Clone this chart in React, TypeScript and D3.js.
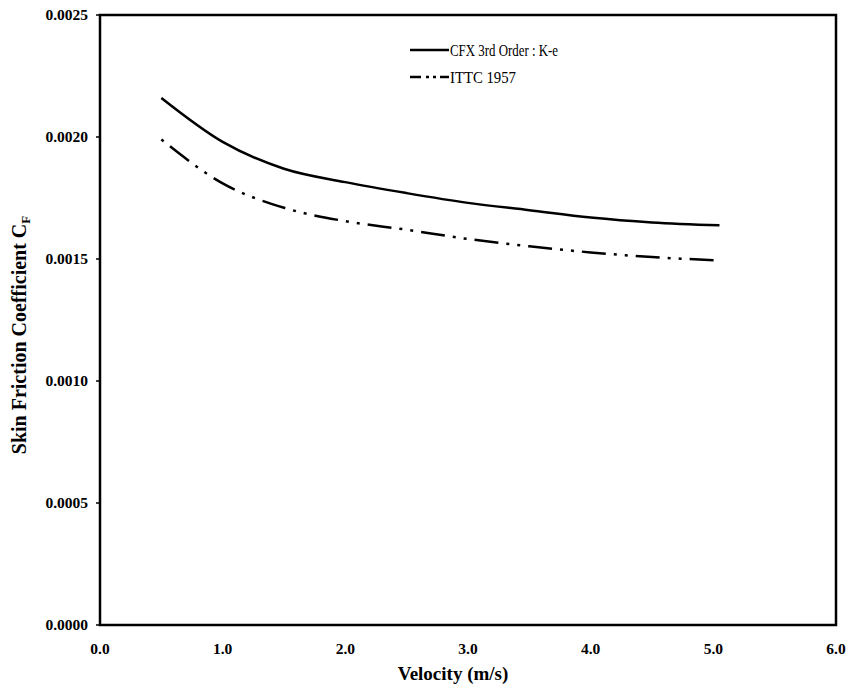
import React, { useEffect, useRef } from "react";
import * as d3 from "d3";

const velocity = [0.5, 1.0, 1.5, 2.0, 2.5, 3.0, 3.5, 4.0, 4.5, 5.05];
const cfxKe = [0.00216, 0.00198, 0.00187, 0.001815, 0.00177, 0.00173, 0.0017, 0.00167, 0.00165, 0.001638];
const ittc1957 = [0.00199, 0.00181, 0.00171, 0.001655, 0.00162, 0.001582, 0.001552, 0.001527, 0.001508, 0.001494];
const xTicks = [0, 1, 2, 3, 4, 5, 6];
const yTicks = [0, 0.0005, 0.001, 0.0015, 0.002, 0.0025];
const seriesNames = ["CFX 3rd Order : K-e", "ITTC 1957"];

export default function App() {
  const ref = useRef<SVGSVGElement>(null);
  useEffect(() => {
    const svg = d3.select(ref.current);
    svg.selectAll("*").remove();
    const W = 849, H = 693;
    const left = 100, right = 836, top = 15, bottom = 625;
    const x = d3.scaleLinear().domain([0, 6]).range([left, right]);
    const y = d3.scaleLinear().domain([0, 0.0025]).range([bottom, top]);
    const font = "'Liberation Serif', 'Times New Roman', serif";

    svg.attr("width", W).attr("height", H).style("background", "#fff");

    const gy = svg.append("g");
    yTicks.forEach((t) => {
      gy.append("line").attr("x1", left - 4).attr("x2", left).attr("y1", y(t)).attr("y2", y(t))
        .attr("stroke", "#000").attr("stroke-width", 1.5);
      gy.append("text").attr("x", 88).attr("y", y(t)).attr("dy", "0.35em")
        .attr("text-anchor", "end").attr("font-family", font).attr("font-weight", "bold")
        .attr("font-size", 15.5).text(d3.format(".4f")(t));
    });
    const gx = svg.append("g");
    xTicks.forEach((t) => {
      gx.append("text").attr("x", x(t)).attr("y", 649).attr("dy", "0.35em")
        .attr("text-anchor", "middle").attr("font-family", font).attr("font-weight", "bold")
        .attr("font-size", 15.5).text(d3.format(".1f")(t));
    });

    svg.append("rect").attr("x", left).attr("y", top).attr("width", right - left).attr("height", bottom - top)
      .attr("fill", "none").attr("stroke", "#000").attr("stroke-width", 2.5);

    const line = d3.line<number>().x((_, i) => x(velocity[i])).y((d) => y(d)).curve(d3.curveMonotoneX);
    svg.append("path").attr("d", line(cfxKe))
      .attr("fill", "none").attr("stroke", "#000").attr("stroke-width", 2.5);
    svg.append("path").attr("d", line(ittc1957))
      .attr("fill", "none").attr("stroke", "#000").attr("stroke-width", 2.5)
      .attr("stroke-dasharray", "3 8 24 8 3 8");

    const lg = svg.append("g");
    const ly = [50, 77];
    const tl = [108, 66];
    lg.append("line").attr("x1", 410).attr("x2", 449).attr("y1", ly[0]).attr("y2", ly[0])
      .attr("stroke", "#000").attr("stroke-width", 2.5);
    lg.append("line").attr("x1", 410).attr("x2", 449).attr("y1", ly[1]).attr("y2", ly[1])
      .attr("stroke", "#000").attr("stroke-width", 2.5).attr("stroke-dasharray", "11 5 3 4 3 4 11");
    seriesNames.forEach((n, i) => {
      lg.append("text").attr("x", 450).attr("y", ly[i]).attr("dy", "0.35em")
        .attr("font-family", font).attr("font-size", 16.5)
        .attr("textLength", tl[i]).attr("lengthAdjust", "spacingAndGlyphs").text(n);
    });

    svg.append("text").attr("x", 453).attr("y", 673).attr("dy", "0.35em").attr("text-anchor", "middle")
      .attr("font-family", font).attr("font-weight", "bold").attr("font-size", 19).text("Velocity (m/s)");
    const yt = svg.append("text").attr("transform", "translate(19,335) rotate(-90)")
      .attr("text-anchor", "middle").attr("dy", "0.35em")
      .attr("font-family", font).attr("font-weight", "bold").attr("font-size", 20);
    yt.append("tspan").text("Skin Friction Coefficient C");
    yt.append("tspan").attr("font-size", 13).attr("dy", "0.3em").text("F");
  }, []);
  return <svg ref={ref} style={{ display: "block", position: "absolute", left: 0, top: 0 }} />;
}
